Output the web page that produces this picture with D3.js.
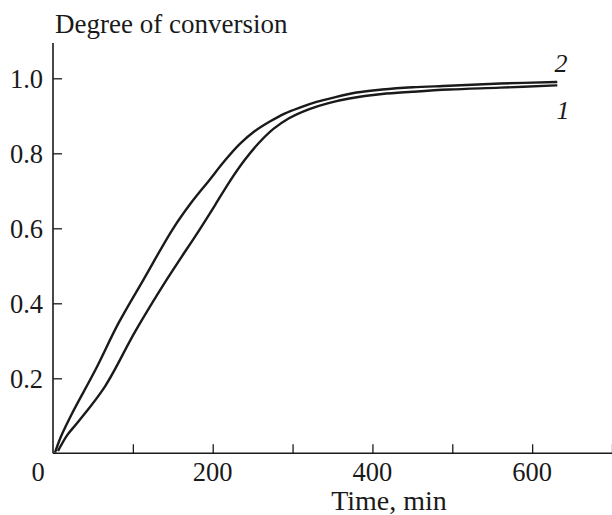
<!DOCTYPE html>
<html>
<head>
<meta charset="utf-8">
<script src="https://cdn.jsdelivr.net/npm/d3@7"></script>
<style>
  body { margin: 0; background: #fff; }
  svg text { font-family: "Liberation Serif", "Times New Roman", serif; fill: #1a1a1a; }
</style>
</head>
<body>
<svg id="chart"></svg>
<script>
// curve 2 (faster, upper) - time in min
const time2 = [3, 10, 24, 53, 82, 113, 150, 173, 196, 215, 234, 252, 271, 290, 309, 330, 350, 380, 412, 450, 496, 560, 630];
const conv2 = [0.005, 0.045, 0.107, 0.222, 0.347, 0.462, 0.598, 0.668, 0.729, 0.780, 0.825, 0.858, 0.884, 0.906, 0.922, 0.937, 0.948, 0.962, 0.970, 0.976, 0.980, 0.986, 0.990];
// curve 1 (slower, lower)
const time1 = [7, 18, 30, 65, 103, 140, 184, 203, 221, 240, 258, 276, 295, 321, 345, 371, 412, 450, 496, 560, 630];
const conv1 = [0.009, 0.049, 0.080, 0.178, 0.325, 0.455, 0.598, 0.662, 0.724, 0.782, 0.828, 0.865, 0.893, 0.918, 0.934, 0.946, 0.958, 0.964, 0.970, 0.975, 0.981];

const xTicks = [100, 200, 300, 400, 500, 600, 700];
const xTickLabels = [0, 200, 400, 600];
const yTicks = [0.2, 0.4, 0.6, 0.8, 1.0];
const curveLabels = ["2", "1"];

const width = 612, height = 515;
const margin = {left: 53, right: 0, top: 43, bottom: 62};

const svg = d3.select("#chart")
    .attr("width", width)
    .attr("height", height);

// x: 0..700 min over plot width, y: 0..~1.094 up to axis top
const xScale = d3.scaleLinear()
    .domain([0, 700])
    .range([margin.left, 612]);
const yScale = d3.scaleLinear()
    .domain([0, 1])
    .range([453.3, 78.3]);
const yTop = yScale.invert(margin.top);

// axes with inward ticks, labels drawn separately
const xAxis = d3.axisTop(xScale)
    .tickValues(xTicks)
    .tickSize(9)
    .tickFormat('');
const yAxis = d3.axisRight(yScale)
    .tickValues(yTicks)
    .tickSize(9)
    .tickFormat('');

const gx = svg.append('g')
    .attr('transform', `translate(0, ${yScale(0)})`)
    .call(xAxis);
const gy = svg.append('g')
    .attr('transform', `translate(${xScale(0)}, 0)`)
    .call(yAxis);

// stretch y domain line to axis top
gy.select('.domain').attr('d', `M0,${yScale(yTop)}V${yScale(0)}`);
gx.select('.domain').attr('d', `M${xScale(0)},0H${xScale(700)}`);

[gx, gy].forEach(g => {
    g.select('.domain').attr('stroke', '#1a1a1a').attr('stroke-width', 1.6);
    g.selectAll('.tick line').attr('stroke', '#1a1a1a').attr('stroke-width', 1.3);
});

// x tick labels, "0" sits left of the corner
svg.append('g').selectAll('text')
    .data(xTickLabels)
    .enter().append('text')
    .attr('x', d => d === 0 ? xScale(0) - 15 : xScale(d))
    .attr('y', 481)
    .attr('text-anchor', 'middle')
    .style('font-size', '26.5px')
    .text(d => d);

// y tick labels
svg.append('g').selectAll('text')
    .data(yTicks)
    .enter().append('text')
    .attr('x', xScale(0) - 10)
    .attr('y', d => yScale(d))
    .attr('dy', '0.35em')
    .attr('text-anchor', 'end')
    .style('font-size', '26.5px')
    .text(d => d3.format('.1f')(d));

// axis titles
svg.append('text')
    .attr('x', 55)
    .attr('y', 33)
    .style('font-size', '27px')
    .text('Degree of conversion');
svg.append('text')
    .attr('x', 389)
    .attr('y', 510)
    .attr('text-anchor', 'middle')
    .style('font-size', '28px')
    .text('Time, min');

// curves
const line = d3.line()
    .x(d => xScale(d[0]))
    .y(d => yScale(d[1]))
    .curve(d3.curveCatmullRom.alpha(0.5));

const series = [d3.zip(time2, conv2), d3.zip(time1, conv1)];

svg.append('g').selectAll('path')
    .data(series)
    .enter().append('path')
    .attr('fill', 'none')
    .attr('stroke', '#1a1a1a')
    .attr('stroke-width', 2.4)
    .attr('stroke-linecap', 'square')
    .attr('d', line);

// curve numbers, italic
svg.append('g').selectAll('text')
    .data(curveLabels)
    .enter().append('text')
    .attr('x', (d, i) => i === 0 ? 561 : 563)
    .attr('y', (d, i) => i === 0 ? 72 : 119)
    .attr('text-anchor', 'middle')
    .style('font-size', '26px')
    .style('font-style', 'italic')
    .text(d => d);
</script>
</body>
</html>
